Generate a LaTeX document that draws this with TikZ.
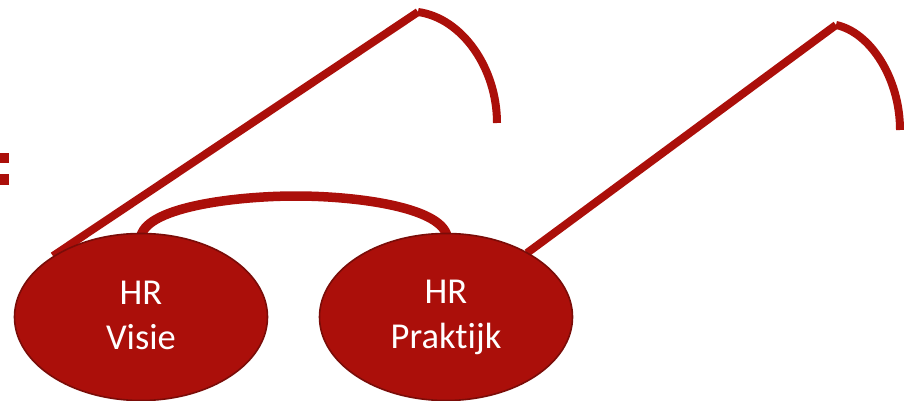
\documentclass[tikz,border=0pt]{standalone}
\usepackage{fontspec}
\setmainfont[Ligatures=NoCommon,Contextuals=NoAlternate]{Carlito}
\usetikzlibrary{shapes.geometric}
\definecolor{hrred}{HTML}{AB0F0A}
\definecolor{hrdark}{HTML}{7A0C08}
\tikzset{
  lens/.style={ellipse,draw=hrdark,line width=1.6pt,fill=hrred,minimum width=253pt,minimum height=167pt,inner sep=0pt,text=white,align=center,font=\fontsize{36.5}{45}\selectfont},
  frameline/.style={draw=hrred,line width=8pt},
  dotmark/.style={fill=hrred,draw=none,minimum width=9pt,minimum height=10.5pt,inner sep=0pt}
}
\begin{document}
\begin{tikzpicture}[x=1pt,y=-1pt]
\useasboundingbox (0,0) rectangle (904,401);
\coordinate (lhinge) at (418,12);
\coordinate (lend) at (497,123);
\coordinate (rhinge) at (836,25);
\coordinate (rend) at (900,130);
\coordinate (lstart) at (53,256);
\coordinate (rstart) at (527,253);
\coordinate (bl) at (141,236);
\coordinate (br) at (447,236);
\node[dotmark] (d1) at (4,158) {};
\node[dotmark] (d2) at (4,179.5) {};
\draw[frameline] (lstart) -- (lhinge);
\draw[frameline] (rstart) -- (rhinge);
\draw[frameline] (lhinge) .. controls (462,18) and (497,68) .. (lend);
\draw[frameline] (rhinge) .. controls (870,32) and (900,78) .. (rend);
\draw[frameline,line width=9.5pt] (bl) .. controls (148,206) and (240,196) .. (296,196) .. controls (352,196) and (440,206) .. (br);
\node[lens] (a) at (141,317) {\raisebox{-3pt}{HR}\\[0pt]\raisebox{-3pt}{Visie}\vphantom{j}};
\node[lens] (b) at (446,317) {\raisebox{-3pt}{HR}\\[0pt]\raisebox{-3pt}{Praktijk}};
\end{tikzpicture}
\end{document}
